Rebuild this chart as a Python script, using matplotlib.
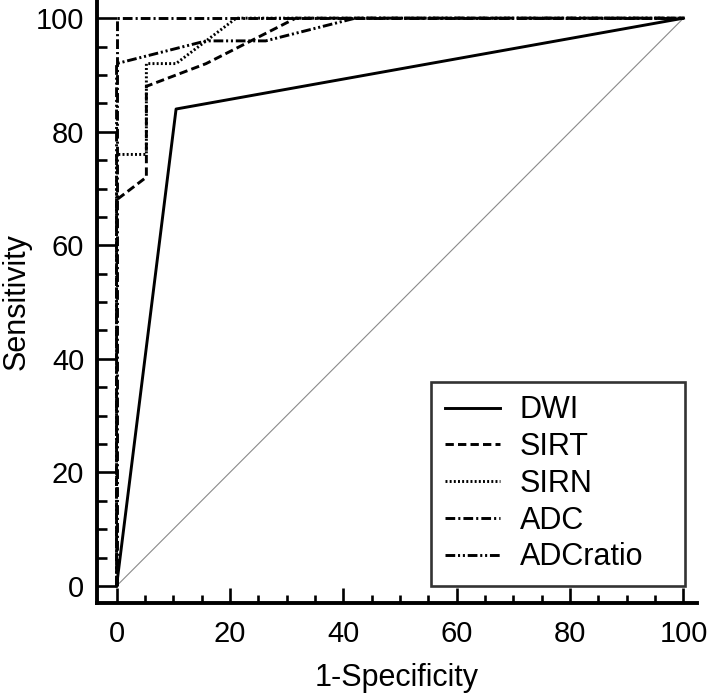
import matplotlib
matplotlib.use("Agg")
import matplotlib.pyplot as plt
from matplotlib.ticker import MultipleLocator

plt.rcParams["font.family"] = ["Liberation Sans", "DejaVu Sans"]
plt.rcParams["lines.scale_dashes"] = False

# ROC points (1-specificity %, sensitivity %)
dwi_x = [0, 10.5, 100]
dwi_y = [0, 84, 100]
sirt_x = [0, 0, 5.26, 5.26, 15.8, 31.6, 100]
sirt_y = [0, 68, 72, 88, 92, 100, 100]
sirn_x = [0, 0, 5.26, 5.26, 10.5, 15.8, 21.1, 100]
sirn_y = [0, 76, 76, 92, 92, 96, 100, 100]
adc_x = [0, 0, 100]
adc_y = [0, 100, 100]
adcr_x = [0, 0, 15.8, 26.3, 42.1, 100]
adcr_y = [0, 92, 96, 96, 100, 100]

labels = ["DWI", "SIRT", "SIRN", "ADC", "ADCratio"]
ticks = [0, 20, 40, 60, 80, 100]

fig = plt.figure(figsize=(7.08, 6.96), dpi=100)
ax = fig.add_axes([0.1366, 0.1332, 0.848, 0.8668])

lw = 2.1
ax.plot([0, 100], [0, 100], color="#8a8a8a", lw=0.8)
ax.plot(dwi_x, dwi_y, color="black", lw=lw, label=labels[0])
ax.plot(sirt_x, sirt_y, color="black", lw=lw, dashes=(6, 3), label=labels[1])
ax.plot(sirn_x, sirn_y, color="black", lw=lw, dashes=(1.4, 1.6), label=labels[2])
ax.plot(adc_x, adc_y, color="black", lw=lw, dashes=(7, 2.2, 1.5, 2.2), label=labels[3])
ax.plot(adcr_x, adcr_y, color="black", lw=lw,
        dashes=(7, 2, 1.5, 2, 1.5, 2), label=labels[4])

ax.set_xlim(-3.5, 102.4)
ax.set_ylim(-3.05, 103.2)
ax.set_xticks(ticks)
ax.set_yticks(ticks)
ax.xaxis.set_minor_locator(MultipleLocator(5))
ax.yaxis.set_minor_locator(MultipleLocator(5))

for s in ["top", "right"]:
    ax.spines[s].set_visible(False)
for s in ["left", "bottom"]:
    ax.spines[s].set_linewidth(2.8)

ax.tick_params(axis="x", which="major", direction="in", length=11, width=1.9,
               labelsize=21, pad=12)
ax.tick_params(axis="x", which="minor", direction="in", length=5.5, width=1.9)
ax.tick_params(axis="y", which="major", direction="in", length=14.5, width=1.9,
               labelsize=21, pad=9)
ax.tick_params(axis="y", which="minor", direction="in", length=7, width=1.9)

ax.set_xlabel("1-Specificity", fontsize=22, labelpad=11)
ax.set_ylabel("Sensitivity", fontsize=22, labelpad=3)

leg = ax.legend(loc="lower right", bbox_to_anchor=(55.5, 0, 44.8, 35),
                bbox_transform=ax.transData, borderaxespad=0, mode="expand",
                fontsize=22, frameon=True, fancybox=False,
                handlelength=1.8, handletextpad=0.65, borderpad=0.45,
                labelspacing=0.22)
leg.get_frame().set_edgecolor("black")
leg.get_frame().set_linewidth(1.9)

fig.savefig("out.png", dpi=100)
